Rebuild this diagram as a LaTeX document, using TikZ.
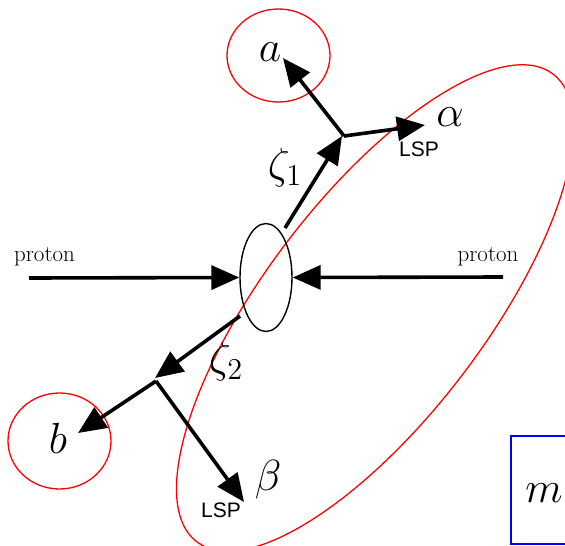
\documentclass[tikz,border=0pt]{standalone}
\usepackage{fontspec}
\newfontfamily\lspfont{Liberation Sans}
\usetikzlibrary{arrows.meta,shapes.geometric}
\begin{document}
\begin{tikzpicture}[x=1pt,y=-1pt,
  arr/.style={line width=3.6pt,-{Triangle[length=28pt,width=24pt]}},
  redc/.style={draw=red,line width=1.3pt},
  mathlbl/.style={font=\fontsize{20.74}{24}\selectfont,inner sep=0pt,scale=2.1},
  lsp/.style={font=\lspfont\fontsize{21}{23}\selectfont,inner sep=0pt},
  prot/.style={font=\fontsize{23}{26}\selectfont,inner sep=0pt}]
\useasboundingbox (0,0) rectangle (565,546);
\clip (0,0) rectangle (565,546);
% big red ellipse
\draw[redc, rotate around={52.7:(375,308)}] (375,308) ellipse [x radius=294, y radius=110];
% central blob
\node[draw, ellipse, line width=1.4pt, minimum width=52pt, minimum height=108pt, inner sep=0pt] (c) at (266,277.5) {};
% circles
\node[redc, ellipse, minimum width=103pt, minimum height=93pt, inner sep=0pt] (ca) at (278.5,55.5) {};
\node[redc, ellipse, minimum width=103pt, minimum height=96pt, inner sep=0pt] (cb) at (59.5,441) {};
% blue box
\draw[blue, line width=1.5pt] (511,436) rectangle (600,544);
\node[mathlbl] (m) at (544,493) {$m$};
% labels
\node[mathlbl] (a) at (270,52) {$a$};
\node[mathlbl] (b) at (58,438) {$b$};
\node[mathlbl] (al) at (450,117) {$\alpha$};
\node[mathlbl] (be) at (268,480) {$\beta$};
\node[mathlbl] (z1) at (285,168) {$\zeta_1$};
\node[mathlbl] (z2) at (226,362) {$\zeta_2$};
\node[lsp] (lsp1) at (419,149) {LSP};
\node[lsp] (lsp2) at (221,510) {LSP};
\node[prot] (p1) at (44.5,257) {proton};
\node[prot] (p2) at (488,257) {proton};
% coordinates
\coordinate (pl) at (29,278);
\coordinate (pr) at (503,277);
\coordinate (u0) at (285,228);
\coordinate (v1) at (342,136);
\coordinate (v1s) at (344,136);
\coordinate (ta) at (283,58);
\coordinate (talpha) at (425,125);
\coordinate (l0) at (240,316);
\coordinate (v2) at (155,378);
\coordinate (v2s) at (156,381);
\coordinate (tb) at (78,433);
\coordinate (tbeta) at (244,502);
% arrows
\draw[arr] (pl) -- (c.west);
\draw[arr] (pr) -- (c.east);
\draw[arr] (u0) -- (v1);
\draw[arr] (v1s) -- (ta);
\draw[arr] (v1s) -- (talpha);
\draw[arr] (l0) -- (v2);
\draw[arr] (v2s) -- (tb);
\draw[arr] (v2s) -- (tbeta);
\end{tikzpicture}
\end{document}
